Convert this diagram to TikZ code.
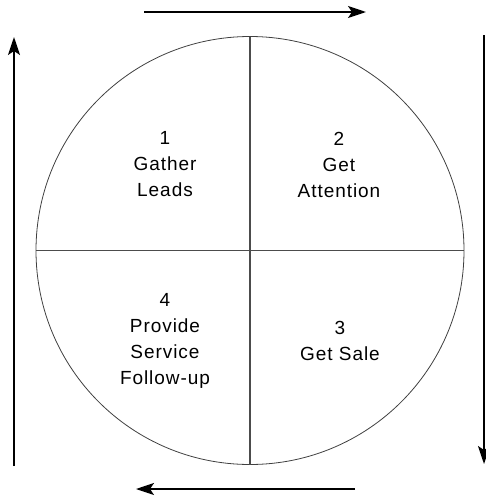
\documentclass[tikz,border=0pt]{standalone}
\usepackage{fontspec}
\setmainfont[LetterSpace=5]{Liberation Sans}
\usetikzlibrary{arrows.meta}
\tikzset{
  cyc/.style={circle, draw=black!75, line width=0.8pt, inner sep=0pt, outer sep=0pt, minimum size=428pt},
  divider/.style={draw=black!70, line width=1.3pt},
  flow/.style={line width=1.8pt, -{Stealth[length=18pt,width=12pt,inset=4pt]}},
  label/.style={align=center, font=\fontsize{19}{26}\selectfont, inner sep=0pt}
}
\begin{document}
\begin{tikzpicture}[x=1pt,y=-1pt]
\useasboundingbox (0,0) rectangle (485,498);
\node[cyc] (c) at (250,250.5) {};
\draw[divider] (c.north) -- (c.south);
\draw[divider] (c.west) -- (c.east);
\node[label] (q1) at (165,164.5) {1\\Gather\\Leads};
\node[label] (q2) at (339,164.5) {2\\Get\\Attention};
\node[label] (q4) at (165,341) {4\\Provide\\Service\\Follow-up};
\node[label] (q3) at (340,340.5) {3\\Get Sale};
\coordinate (ta) at (144,12);
\coordinate (tb) at (366,12);
\coordinate (ra) at (484,35);
\coordinate (rb) at (484,464);
\coordinate (ba) at (355,489);
\coordinate (bb) at (136,489);
\coordinate (la) at (14,466);
\coordinate (lb) at (14,37);
\draw[flow] (ta) -- (tb);
\draw[flow] (ra) -- (rb);
\draw[flow] (ba) -- (bb);
\draw[flow] (la) -- (lb);
\end{tikzpicture}
\end{document}
